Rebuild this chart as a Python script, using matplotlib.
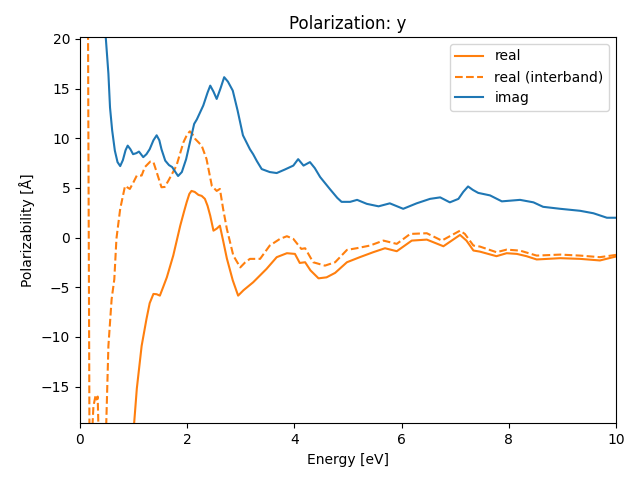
import matplotlib.pyplot as plt
import numpy as np

# imag part
x_imag = [0.40, 0.48, 0.53, 0.56, 0.60, 0.65, 0.70, 0.75, 0.80, 0.85, 0.89, 0.94, 0.99, 1.05,
          1.10, 1.18, 1.24, 1.30, 1.37, 1.43, 1.48, 1.52, 1.59, 1.66, 1.72, 1.78, 1.83, 1.90,
          1.98, 2.06, 2.13, 2.18, 2.30, 2.38, 2.43, 2.49, 2.55, 2.62, 2.69, 2.76, 2.85, 2.94,
          3.04, 3.17, 3.23, 3.30, 3.39, 3.54, 3.67, 3.82, 3.98, 4.07, 4.17, 4.29, 4.38, 4.48,
          4.66, 4.80, 4.88, 5.04, 5.17, 5.35, 5.57, 5.78, 6.03, 6.28, 6.53, 6.72, 6.90, 7.06,
          7.15, 7.24, 7.33, 7.43, 7.65, 7.87, 8.21, 8.46, 8.64, 8.96, 9.33, 9.58, 9.83, 10.0]
y_imag = [32.0, 20.2, 16.5, 13.1, 10.8, 8.76, 7.6, 7.2, 7.8, 8.8, 9.26, 8.9, 8.4, 8.5,
          8.66, 8.1, 8.4, 8.9, 9.8, 10.3, 9.8, 8.9, 7.75, 7.3, 7.1, 6.6, 6.2, 6.6,
          7.9, 9.8, 11.45, 11.9, 13.3, 14.6, 15.3, 14.7, 13.96, 15.0, 16.15, 15.7, 14.8, 12.8,
          10.3, 8.9, 8.4, 7.7, 6.9, 6.6, 6.5, 6.85, 7.25, 7.9, 7.25, 7.6, 7.0, 6.1,
          4.9, 4.0, 3.6, 3.6, 3.8, 3.4, 3.15, 3.45, 2.9, 3.45, 3.9, 4.05, 3.55, 3.9,
          4.6, 5.15, 4.8, 4.5, 4.25, 3.65, 3.8, 3.55, 3.1, 2.9, 2.7, 2.45, 2.0, 2.0]

# real part
x_real = [0.95, 1.01, 1.06, 1.15, 1.24, 1.30, 1.37, 1.43, 1.49, 1.55, 1.62, 1.74, 1.87,
          1.94, 1.99, 2.04, 2.08, 2.14, 2.21, 2.27, 2.33, 2.38, 2.43, 2.49, 2.55, 2.61,
          2.67, 2.74, 2.85, 2.95, 3.05, 3.23, 3.48, 3.67, 3.86, 4.01, 4.10, 4.20, 4.30,
          4.45, 4.60, 4.76, 4.98, 5.22, 5.47, 5.69, 5.91, 6.19, 6.47, 6.78, 7.09, 7.21,
          7.34, 7.46, 7.77, 7.96, 8.15, 8.33, 8.52, 8.96, 9.33, 9.70, 10.0]
y_real = [-25.0, -18.7, -15.2, -10.9, -8.2, -6.6, -5.67, -5.7, -5.84, -5.0, -4.0, -1.8, 1.2,
          2.6, 3.56, 4.4, 4.7, 4.6, 4.3, 4.2, 3.9, 3.2, 2.2, 0.7, 0.9, 1.2,
          -0.3, -2.1, -4.3, -5.84, -5.3, -4.5, -3.15, -1.97, -1.57, -1.64, -2.55, -2.48, -3.3,
          -4.1, -4.0, -3.55, -2.48, -1.97, -1.47, -1.07, -1.37, -0.3, -0.2, -0.87, 0.27, -0.3,
          -1.3, -1.41, -1.87, -1.57, -1.64, -1.87, -2.2, -2.07, -2.14, -2.3, -1.9]

# real part (interband)
x_inter = [0.12, 0.15, 0.18, 0.25, 0.29, 0.31, 0.33, 0.37, 0.44, 0.49, 0.53, 0.59, 0.64,
           0.68, 0.75, 0.84, 0.93, 1.00, 1.06, 1.15, 1.21, 1.31, 1.37, 1.43, 1.52, 1.58,
           1.65, 1.80, 1.93, 2.00, 2.05, 2.10, 2.15, 2.27, 2.36, 2.46, 2.55, 2.61, 2.67,
           2.74, 2.86, 2.99, 3.08, 3.17, 3.36, 3.54, 3.73, 3.86, 3.98, 4.13, 4.20, 4.35,
           4.57, 4.76, 4.98, 5.16, 5.41, 5.66, 5.91, 6.16, 6.47, 6.75, 7.09, 7.18, 7.34,
           7.46, 7.77, 7.96, 8.21, 8.52, 8.96, 9.33, 9.70, 10.0]
y_inter = [40.0, 20.2, -25.0, -17.0, -15.9, -16.3, -16.0, -25.0, -25.0, -18.7, -10.9, -6.2, -4.2,
           -0.1, 2.9, 5.2, 4.9, 5.6, 6.25, 6.25, 7.1, 7.65, 7.6, 6.6, 5.07, 5.1,
           5.74, 7.25, 9.6, 10.4, 10.7, 10.4, 9.93, 9.26, 7.92, 5.2, 4.7, 4.9, 2.9,
           0.87, -1.8, -3.0, -2.5, -2.14, -2.14, -0.8, -0.13, 0.14, -0.13, -1.14, -1.07, -2.48,
           -2.82, -2.48, -1.24, -1.07, -0.8, -0.3, -0.63, 0.37, 0.44, -0.3, 0.7, 0.37, -0.8,
           -0.9, -1.47, -1.21, -1.31, -1.81, -1.71, -1.81, -1.97, -1.74]

fig, ax = plt.subplots(figsize=(6.4, 4.8), dpi=100)
ax.plot(x_real, y_real, color='C1', label='real')
ax.plot(x_inter, y_inter, color='C1', linestyle='--', label='real (interband)')
ax.plot(x_imag, y_imag, color='C0', label='imag')
ax.set_xlim(0, 10)
ax.set_ylim(-18.7, 20.2)
ax.set_xlabel('Energy [eV]')
ax.set_ylabel('Polarizability [Å]')
ax.set_title('Polarization: y')
ax.legend(loc='upper right')
fig.subplots_adjust(left=0.125, right=0.9625, top=0.923, bottom=0.118)
fig.savefig('out.png')
